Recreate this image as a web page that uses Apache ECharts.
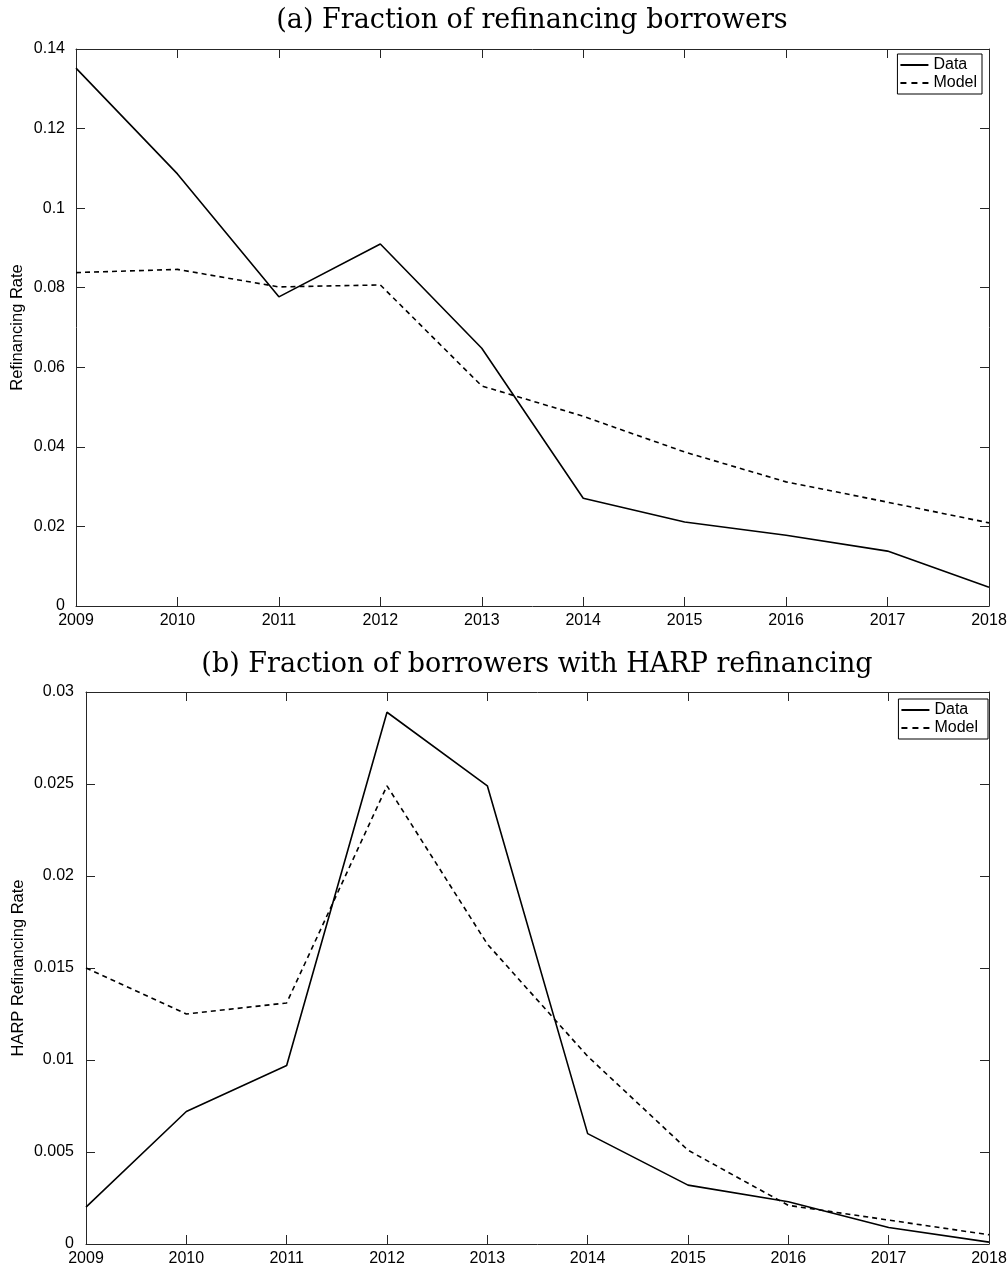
<!DOCTYPE html>
<html>
<head>
<meta charset="utf-8">
<script src="https://cdn.jsdelivr.net/npm/echarts@6/dist/echarts.min.js"></script>
<style>
html,body{margin:0;padding:0;background:#fff;}
#chart{width:1008px;height:1270px;}
</style>
</head>
<body>
<div id="chart"></div>
<script>
const years = [2009, 2010, 2011, 2012, 2013, 2014, 2015, 2016, 2017, 2018];
const refiData  = [0.1352, 0.1086, 0.0777, 0.0910, 0.0648, 0.0271, 0.0211, 0.0178, 0.0138, 0.0047];
const refiModel = [0.0838, 0.0846, 0.0802, 0.0807, 0.0553, 0.0477, 0.0387, 0.0312, 0.0261, 0.0209];
const harpData  = [0.0020, 0.0072, 0.0097, 0.0289, 0.0249, 0.0060, 0.0032, 0.0023, 0.0009, 0.0001];
const harpModel = [0.0150, 0.0125, 0.0131, 0.0249, 0.0163, 0.0102, 0.0051, 0.0021, 0.0013, 0.0005];
const titles = ['(a) Fraction of refinancing borrowers', '(b) Fraction of borrowers with HARP refinancing'];
const yNames = ['Refinancing Rate', 'HARP Refinancing Rate'];
const seriesNames = ['Data', 'Model'];

const chart = echarts.init(document.getElementById('chart'), null, {renderer: 'canvas'});
const sans = 'Liberation Sans';
const axisColor = '#262626';

function pairs(vals) { return years.map((y, i) => [y, vals[i]]); }

function xAxes(gi) {
  const base = {
    type: 'value', gridIndex: gi, min: 2009, max: 2018, interval: 1,
    splitLine: {show: false},
    axisLine: {show: true, onZero: false, lineStyle: {color: axisColor, width: 1}},
    axisTick: {show: true, inside: true, length: 9, lineStyle: {color: axisColor}}
  };
  return [
    Object.assign({}, base, {position: 'bottom',
      axisLabel: {show: true, color: '#000', fontFamily: sans, fontSize: 16, margin: 7,
        formatter: v => String(v)}}),
    Object.assign({}, base, {position: 'top', axisLabel: {show: false}})
  ];
}
function yAxes(gi, max, interval, gap, lblMargin) {
  const base = {
    type: 'value', gridIndex: gi, min: 0, max: max, interval: interval,
    splitLine: {show: false},
    axisLine: {show: true, onZero: false, lineStyle: {color: axisColor, width: 1}},
    axisTick: {show: true, inside: true, length: 9, lineStyle: {color: axisColor}}
  };
  return [
    Object.assign({}, base, {position: 'left',
      name: yNames[gi], nameLocation: 'middle', nameGap: gap, nameRotate: 90,
      nameMoveOverlap: false,
      nameTextStyle: {fontFamily: sans, fontSize: 16.5, color: '#000'},
      axisLabel: {show: true, color: '#000', fontFamily: sans, fontSize: 16, margin: lblMargin,
        formatter: v => String(+v.toFixed(4))}}),
    Object.assign({}, base, {position: 'right', axisLabel: {show: false}})
  ];
}
function lineSeries(name, vals, gi, dashed) {
  return {
    name: name, type: 'line', xAxisIndex: gi * 2, yAxisIndex: gi * 2,
    data: pairs(vals), symbol: 'none', animation: false,
    lineStyle: {color: '#000', width: 1.6, type: dashed ? [5, 4] : 'solid'},
    itemStyle: {color: '#000'}
  };
}
const legendBase = {
  orient: 'vertical', itemWidth: 28, itemHeight: 18, itemGap: 2,
  borderColor: '#000', borderWidth: 1, backgroundColor: '#fff',
  itemStyle: {opacity: 0, color: 'rgba(0,0,0,0)', borderColor: 'rgba(0,0,0,0)', borderWidth: 0},
  textStyle: {fontFamily: sans, fontSize: 16, color: '#000'},
  selectedMode: false,
  data: [{name: seriesNames[0]}, {name: seriesNames[1], lineStyle: {type: [6, 5]}}]
};

chart.setOption({
  animation: false,
  backgroundColor: '#fff',
  grid: [
    {left: 76, right: 19, top: 49, height: 557, containLabel: false, outerBoundsMode: 'none'},
    {left: 86, right: 19, top: 692, height: 552, containLabel: false, outerBoundsMode: 'none'}
  ],
  xAxis: [...xAxes(0), ...xAxes(1)],
  yAxis: [...yAxes(0, 0.14, 0.02, 50, 11), ...yAxes(1, 0.03, 0.005, 59, 12)],
  legend: [
    Object.assign({}, legendBase, {top: 54, right: 26, padding: [3, 5, 3, 2]}),
    Object.assign({}, legendBase, {top: 699, right: 20, padding: [3, 10, 3, 2]})
  ],
  series: [
    lineSeries(seriesNames[0], refiData, 0, false),
    lineSeries(seriesNames[1], refiModel, 0, true),
    lineSeries(seriesNames[0], harpData, 1, false),
    lineSeries(seriesNames[1], harpModel, 1, true)
  ],
  graphic: [
    {type: 'text', x: 532, y: 21, style: {text: titles[0], font: '27px "DejaVu Serif"', fill: '#000', align: 'center', verticalAlign: 'middle'}},
    {type: 'text', x: 537, y: 665, style: {text: titles[1], font: '27px "DejaVu Serif"', fill: '#000', align: 'center', verticalAlign: 'middle'}}
  ]
});
</script>
</body>
</html>
